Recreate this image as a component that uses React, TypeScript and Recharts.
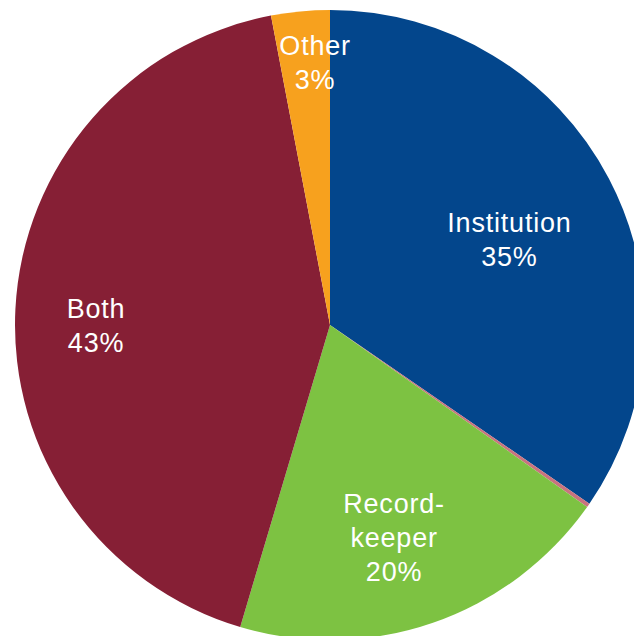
import React from 'react'
import { PieChart, Pie, Cell } from 'recharts'

const categories = ['Institution', '', 'Record-keeper', 'Both', 'Other']
const shares = [34.6, 0.2, 19.8, 42.4, 3.0]
const labelLines = [
  ['Institution', '35%'],
  [],
  ['Record-', 'keeper', '20%'],
  ['Both', '43%'],
  ['Other', '3%'],
]
const colors = ['#03468c', '#c9737f', '#7dc242', '#861f35', '#f7a11e']

// how far out (fraction of radius) each label sits, plus a small pixel nudge
const labelRadius = [0.64, 0, 0.7, 0.75, 0.84]
const labelNudge = [
  [1, 9],
  [0, 0],
  [-8, 5],
  [2, 13],
  [10, 1],
]

const data = categories.map((name, i) => ({ name, value: shares[i] }))

const RAD = Math.PI / 180
const LINE_H = 34

const renderLabel = (props: any) => {
  const { cx, cy, midAngle, outerRadius, index } = props
  const lines = labelLines[index]
  if (!lines || lines.length === 0) return null
  const r = outerRadius * labelRadius[index]
  const x = cx + r * Math.cos(-midAngle * RAD) + labelNudge[index][0]
  const y = cy + r * Math.sin(-midAngle * RAD) + labelNudge[index][1]
  const top = y - ((lines.length - 1) * LINE_H) / 2
  return (
    <text
      x={x}
      y={top}
      fill="#fff"
      textAnchor="middle"
      dominantBaseline="central"
      fontFamily="'Liberation Sans', Arial, sans-serif"
      fontSize={27}
      letterSpacing={0.8}
    >
      {lines.map((t, i) => (
        <tspan key={i} x={x} y={top + i * LINE_H}>
          {t}
        </tspan>
      ))}
    </text>
  )
}

const App: React.FC = () => {
  return (
    <div style={{ position: 'absolute', left: 0, top: 0, width: 634, height: 636, background: '#fff' }}>
      <PieChart width={634} height={636} margin={{ top: 0, right: 0, bottom: 0, left: 0 }}>
        <Pie
          data={data}
          dataKey="value"
          cx={330}
          cy={325}
          outerRadius={315}
          startAngle={90}
          endAngle={-270}
          stroke="none"
          label={renderLabel}
          labelLine={false}
          isAnimationActive={false}
        >
          {data.map((d, i) => (
            <Cell key={d.name + i} fill={colors[i]} />
          ))}
        </Pie>
      </PieChart>
    </div>
  )
}

export default App
